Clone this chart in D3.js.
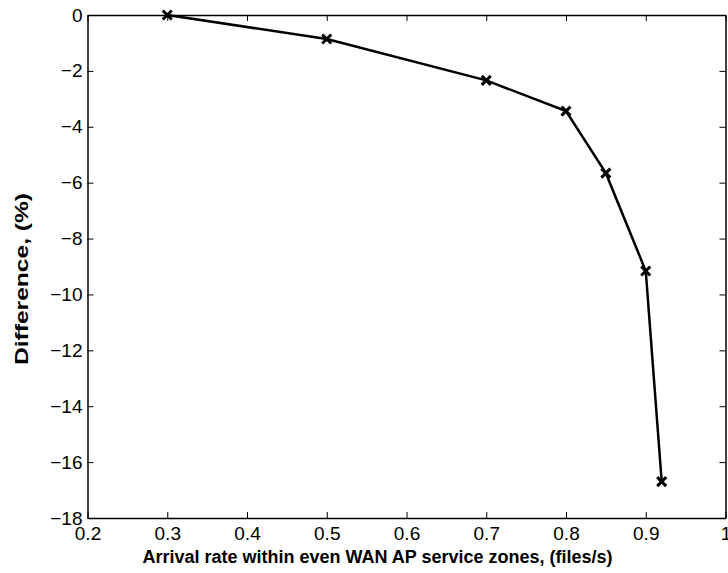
<!DOCTYPE html>
<html>
<head>
<meta charset="utf-8">
<script src="https://cdn.jsdelivr.net/npm/d3@7"></script>
<style>
  body { margin: 0; background: #fff; }
  svg text { font-family: "Liberation Sans", Arial, sans-serif; fill: #000; }
</style>
</head>
<body>
<svg id="chart" width="728" height="573"></svg>
<script>
var rates = [0.3, 0.5, 0.7, 0.8, 0.85, 0.9, 0.92];
var diffs = [0, -0.86, -2.34, -3.44, -5.66, -9.16, -16.7];
var xTicks = [0.2, 0.3, 0.4, 0.5, 0.6, 0.7, 0.8, 0.9, 1];
var yTicks = [0, -2, -4, -6, -8, -10, -12, -14, -16, -18];

var svg = d3.select("#chart");
var mLeft = 87.5, mRight = 725.5, mTop = 15, mBottom = 518;

var x = d3.scaleLinear().domain([0.2, 1]).range([mLeft, mRight]);
var y = d3.scaleLinear().domain([-18, 0]).range([mBottom, mTop]);

function fmtX(d) { return d === 1 ? "1" : d3.format(".1f")(d); }

// inward ticks on all four sides
var g = svg.append("g");
g.append("g").attr("transform", "translate(0," + mBottom + ")")
  .call(d3.axisBottom(x).tickValues(xTicks).tickFormat(fmtX).tickSizeInner(-6).tickSizeOuter(0).tickPadding(9));
g.append("g").attr("transform", "translate(0," + mTop + ")")
  .call(d3.axisTop(x).tickValues(xTicks).tickFormat("").tickSizeInner(-6).tickSizeOuter(0));
g.append("g").attr("transform", "translate(" + mLeft + ",0)")
  .call(d3.axisLeft(y).tickValues(yTicks).tickSizeInner(-6).tickSizeOuter(0).tickPadding(5));
g.append("g").attr("transform", "translate(" + mRight + ",0)")
  .call(d3.axisRight(y).tickValues(yTicks).tickFormat("").tickSizeInner(-6).tickSizeOuter(0));

g.selectAll(".domain").attr("stroke", "#000").attr("stroke-width", 1.5);
g.selectAll(".tick line").attr("stroke", "#000");
g.selectAll(".tick text").style("font-size", "19px").attr("fill", "#000");

var pts = rates.map(function (r, i) { return [r, diffs[i]]; });

svg.append("path")
  .datum(pts)
  .attr("fill", "none")
  .attr("stroke", "#000")
  .attr("stroke-width", 2.5)
  .attr("d", d3.line().x(function (d) { return x(d[0]); }).y(function (d) { return y(d[1]); }));

svg.selectAll(".mk").data(pts).enter().append("path")
  .attr("class", "mk")
  .attr("transform", function (d) { return "translate(" + x(d[0]) + "," + y(d[1]) + ")"; })
  .attr("d", "M-4.5,-4.5L4.5,4.5M-4.5,4.5L4.5,-4.5")
  .attr("stroke", "#000")
  .attr("stroke-width", 3);

svg.append("text")
  .attr("x", (mLeft + mRight) / 2 - 29)
  .attr("y", 563)
  .attr("text-anchor", "middle")
  .style("font-size", "18px")
  .style("font-weight", "bold")
  .text("Arrival rate within even WAN AP service zones, (files/s)");

// y label is stretched along its length in the reference
svg.append("text")
  .attr("transform", "translate(28,279) rotate(-90)")
  .attr("text-anchor", "middle")
  .attr("textLength", 172)
  .attr("lengthAdjust", "spacingAndGlyphs")
  .style("font-size", "18px")
  .style("font-weight", "bold")
  .text("Difference, (%)");
</script>
</body>
</html>
